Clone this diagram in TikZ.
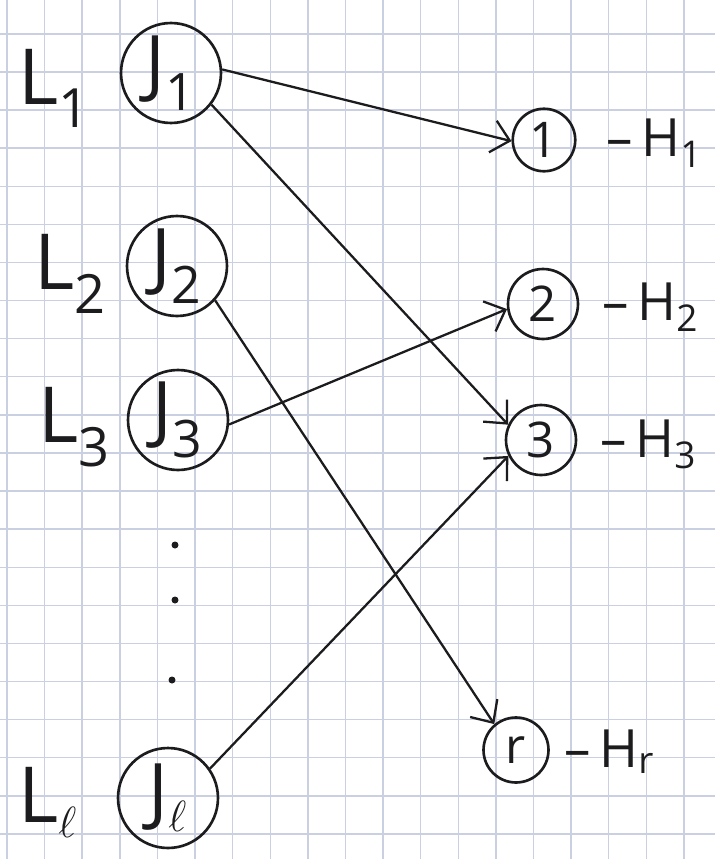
\documentclass[tikz,border=0pt]{standalone}
\usepackage{fontspec}
\setmainfont{Open Sans}
\usetikzlibrary{arrows.meta}
\definecolor{gridc}{RGB}{202,208,225}
\definecolor{ink}{RGB}{28,28,30}
\begin{document}
\begin{tikzpicture}[x=0.02cm,y=-0.02cm,
  big/.style={circle,draw=ink,line width=1.5pt,minimum size=2cm,inner sep=0pt,text=ink,font=\fontsize{42}{42}\selectfont},
  small/.style={circle,draw=ink,line width=1.5pt,minimum size=1.3cm,inner sep=0pt,text=ink,font=\fontsize{28}{28}\selectfont},
  llab/.style={anchor=base west,inner sep=0pt,text=ink,font=\fontsize{44}{44}\selectfont},
  hlab/.style={anchor=base west,inner sep=0pt,text=ink,font=\fontsize{30}{30}\selectfont},
  conn/.style={draw=ink,line width=1.3pt,-{Straight Barb[length=3.5mm,width=6.5mm]}},
  gridline/.style={draw=gridc,line width=0.8pt}]
\useasboundingbox (0,0) rectangle (715,859);
\fill[white] (0,0) rectangle (715,859);
% paper grid
\foreach \i in {0,...,19} \draw[gridline] ({7+37.6*\i},0) -- ({7+37.6*\i},859);
\foreach \j in {0,...,23} \draw[gridline] (0,{-4.3+38.1*\j}) -- (715,{-4.3+38.1*\j});
% left nodes
\node[big] (J1) at (171,73) {J\textsubscript{1}};
\node[big] (J2) at (177,266) {J\textsubscript{2}};
\node[big] (J3) at (178,420) {J\textsubscript{3}};
\node[big] (Jl) at (168,798) {J\textsubscript{$\ell$}};
% left labels
\node[llab] (L1) at (18,104) {L\textsubscript{1}};
\node[llab] (L2) at (34,289) {L\textsubscript{2}};
\node[llab] (L3) at (38,442) {L\textsubscript{3}};
\node[llab] (Ll) at (18,822) {L\textsubscript{$\ell$}};
% dots
\fill[ink] (175,545) circle (3.5);
\fill[ink] (175,600) circle (3.5);
\fill[ink] (172,680) circle (3.5);
% right nodes
\node[small,minimum size=1.25cm] (N1) at (544,140) {1};
\node[small,minimum size=1.4cm] (N2) at (543,304) {2};
\node[small,minimum size=1.4cm] (N3) at (541,440) {3};
\node[small,minimum size=1.3cm] (Nr) at (516,750) {r};
% right labels
\node[hlab] (H1) at (606,156) {–\,H\textsubscript{1}};
\node[hlab] (H2) at (602,320) {–\,H\textsubscript{2}};
\node[hlab] (H3) at (600,457) {–\,H\textsubscript{3}};
\node[hlab] (Hr) at (564,767) {–\,H\textsubscript{r}};
% connectors
\draw[conn] (J1.4) -- (N1.182);
\draw[conn] (J1.-38) -- (N3.155);
\draw[conn] (J2.-42) -- (Nr.130);
\draw[conn] (J3.-5) -- (N2.188);
\draw[conn] (Jl.35) -- (N3.206);
\end{tikzpicture}
\end{document}
